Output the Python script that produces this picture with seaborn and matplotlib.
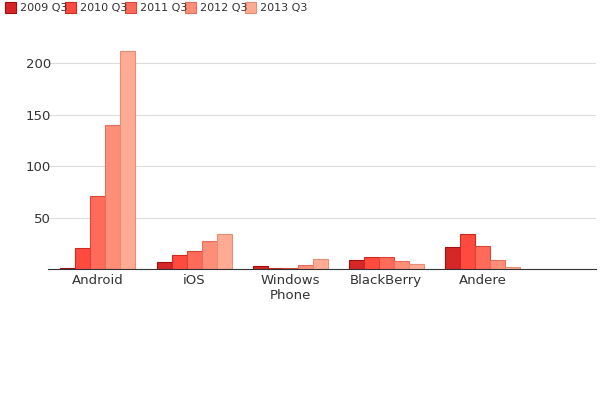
import pandas as pd
import matplotlib.pyplot as plt
import seaborn as sns

platforms = ["Android", "iOS", "Windows\nPhone", "BlackBerry", "Andere"]
quarters = ["2009 Q3", "2010 Q3", "2011 Q3", "2012 Q3", "2013 Q3"]
values = {
    "2009 Q3": [1, 7, 3, 8.5, 21.5],
    "2010 Q3": [20.5, 13.5, 1.5, 12, 34],
    "2011 Q3": [71, 17.5, 1.5, 12, 22.5],
    "2012 Q3": [140, 27, 4, 7.5, 9],
    "2013 Q3": [212, 34, 9.5, 5, 2],
}
colors = ["#d62728", "#ff4a40", "#ff6a5a", "#ff8e78", "#ffab94"]
edges = ["#a01010", "#cc2a20", "#d84838", "#e07060", "#e09078"]

rows = [(p, q, values[q][i]) for q in quarters for i, p in enumerate(platforms)]
df = pd.DataFrame(rows, columns=["platform", "quarter", "value"])

sns.set_style("white")
plt.rcParams['font.family'] = ['DejaVu Sans']
fig = plt.figure(figsize=(6, 4), dpi=100)
ax = fig.add_axes([0.08, 0.327, 0.913, 0.58])
sns.barplot(data=df, x="platform", y="value", hue="quarter", palette=colors,
            width=0.78, ax=ax, legend=False, saturation=1)
for i, cont in enumerate(ax.containers):
    for b in cont:
        b.set_edgecolor(edges[i])
        b.set_linewidth(0.8)

ax.set_xlim(-0.52, 5.18)
ax.set_ylim(0, 225)
ax.set_yticks([50, 100, 150, 200])
ax.yaxis.grid(True, color="#dddddd", linewidth=0.8)
ax.set_axisbelow(True)
for s in ["top", "right", "left"]:
    ax.spines[s].set_visible(False)
ax.spines["bottom"].set_color("#333333")
ax.tick_params(axis="y", length=0, labelsize=9.5, colors="#333333", pad=-2)
ax.tick_params(axis="x", length=0, labelsize=9.5, colors="#333333")
ax.set_xlabel("")
ax.set_ylabel("")

x0 = 0.008
for q, c, e in zip(quarters, colors, edges):
    fig.patches.append(plt.Rectangle((x0, 0.968), 0.018, 0.027, transform=fig.transFigure,
                                     facecolor=c, edgecolor=e, linewidth=0.8))
    fig.text(x0 + 0.025, 0.981, q, fontsize=8, color="#333333", va="center")
    x0 += 0.1

fig.savefig("out.png", dpi=100)
